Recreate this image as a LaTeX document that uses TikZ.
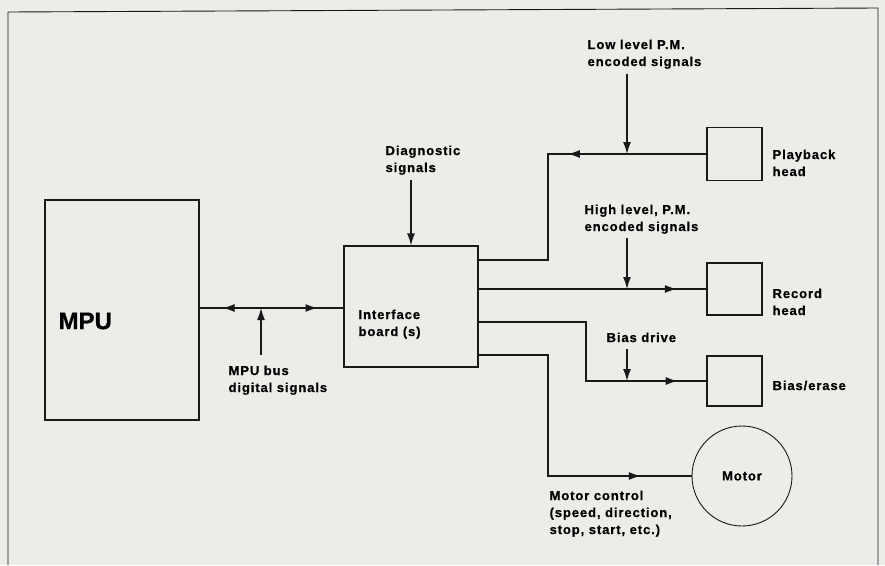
\documentclass[tikz,border=0pt]{standalone}
\usepackage{fontspec}
\setmainfont{Liberation Sans}[LetterSpace=7, BoldFeatures={FakeBold=0.6}]
\newfontfamily\bigfont{Liberation Sans}[BoldFeatures={FakeBold=0.6}]
\usetikzlibrary{arrows.meta,decorations.markings}
\definecolor{paper}{RGB}{236,236,233}
\definecolor{ink}{RGB}{25,25,25}
\tikzset{
  arrowat/.style={postaction={decorate,decoration={markings,mark=at position #1 with {\arrow{>}}}}},
  arrowbackat/.style={postaction={decorate,decoration={markings,mark=at position #1 with {\arrowreversed{>}}}}}
}
\begin{document}
\begin{tikzpicture}
[x=1pt, y=-1pt, font=\bfseries\fontsize{13}{17}\selectfont, >={Latex[length=12pt,width=8pt]}, color=ink, line width=1.2pt]
\tikzstyle{box}=[draw, rectangle, inner sep=0pt]
\tikzstyle{txt}=[anchor=north west, inner sep=0pt, align=left, text=black]
\useasboundingbox (0,0) rectangle (885,565);
\fill[paper] (0,0) rectangle (885,565);
\draw[line width=0.9pt] (8,565) -- (8,12) -- (878,8) -- (878,565);

% blocks
\node[box, minimum width=154, minimum height=220] (mpu)  at (122,310)   {};
\node[box, minimum width=134, minimum height=121] (ifb)  at (411,306.5) {};
\node[box, minimum width=55, minimum height=53]   (pbh)  at (734.5,154) {};
\node[box, minimum width=55, minimum height=52]   (rech) at (734.5,289) {};
\node[box, minimum width=55, minimum height=50]   (bias) at (734.5,381) {};
\node[circle, draw, minimum size=100, inner sep=0pt, line width=0.9pt, text=black] (motor) at (742,476) {Motor};

% texts
\node[txt, font=\bigfont\bfseries\fontsize{24}{28}\selectfont] (mpulbl) at (58,312) {MPU};
\node[txt] (ifblbl)  at (358,309) {Interface\\board (s)};
\node[txt] (pbhlbl)  at (772,149) {Playback\\head};
\node[txt] (rechlbl) at (772,288) {Record\\head};
\node[txt] (biaslbl) at (772,380) {Bias/erase};
\node[txt] (diag)    at (385,145) {Diagnostic\\signals};
\node[txt] (low)     at (587,39)  {Low level P.M.\\encoded signals};
\node[txt] (high)    at (584,204) {High level, P.M.\\encoded signals};
\node[txt] (drive)   at (606,332) {Bias drive};
\node[txt] (buslbl)  at (228,365) {MPU bus\\digital signals};
\node[txt] (motlbl)  at (549,490) {Motor control\\(speed, direction,\\stop, start, etc.)};

% signal feet
\coordinate (busup)    at (261,355);
\coordinate (busjoin)  at (261,308);
\coordinate (diagtail) at (411,180);
\coordinate (lowtail)  at (627,74);
\coordinate (lowjoin)  at (627,154);
\coordinate (hightail) at (627,238);
\coordinate (highjoin) at (627,289);
\coordinate (drvtail)  at (627,349);
\coordinate (drvjoin)  at (627,381);

% paths
\draw[arrowbackat=0.16, arrowat=0.82] (mpu.east |- busjoin) -- (ifb.west |- busjoin);
\draw[->] (busup) -- (busjoin);
\draw[->] (diagtail) -- (ifb.north);
\draw[arrowat=0.415] (pbh.west) -- (548,154) -- (548,260) -- (ifb.east |- 0,260);
\draw[->] (lowtail) -- (lowjoin);
\draw[arrowat=0.87] (ifb.east |- rech.west) -- (rech.west);
\draw[->] (hightail) -- (highjoin);
\draw[arrowat=0.9] (ifb.east |- 0,322) -- (586,322) -- (586,381) -- (bias.west);
\draw[->] (drvtail) -- (drvjoin);
\draw[arrowat=0.848] (ifb.east |- 0,355) -- (548,355) -- (548,476) -- (motor.west);
\end{tikzpicture}
\end{document}
